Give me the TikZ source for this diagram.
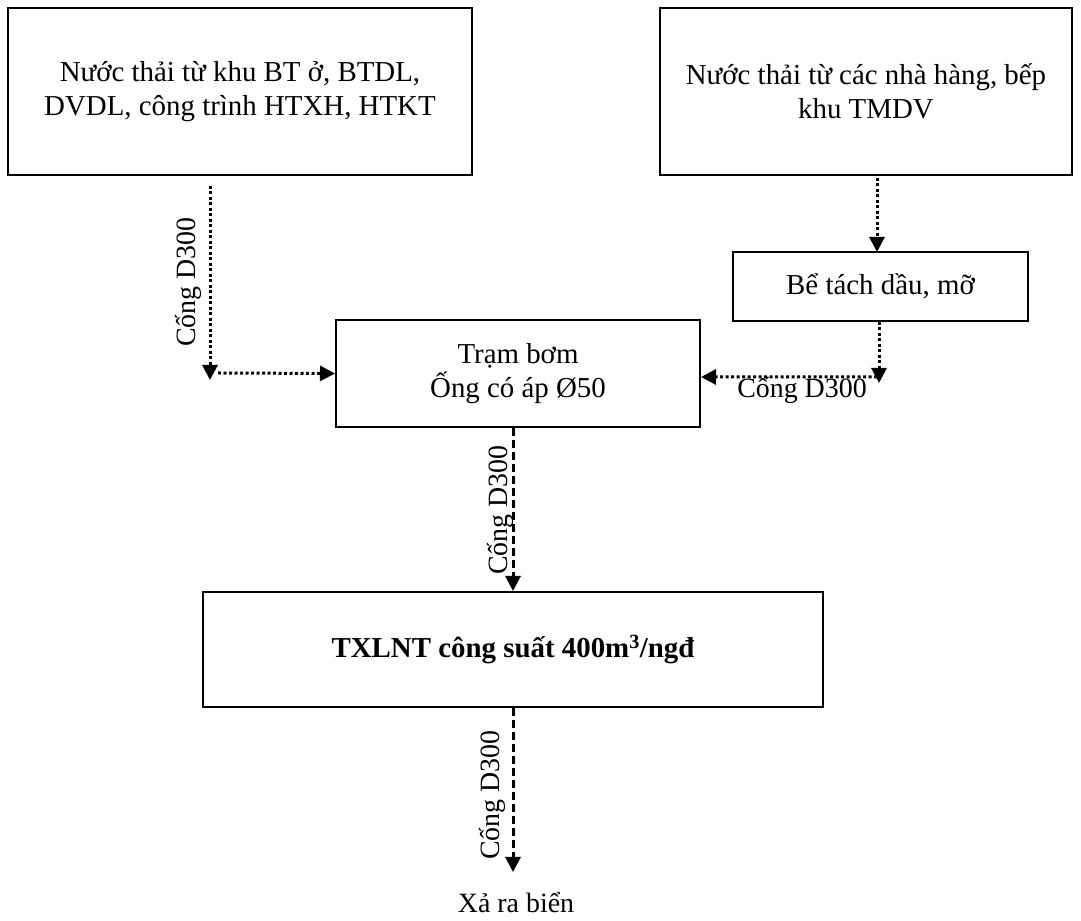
\documentclass[tikz,border=0pt]{standalone}
\usepackage{fontspec}
\setmainfont{Liberation Serif}
\usetikzlibrary{arrows.meta}
\tikzset{
  box/.style={draw,line width=2bp,inner sep=0pt,align=center,font=\fontsize{29}{34}\selectfont},
  pipedot/.style={line width=3bp,dash pattern=on 3bp off 2.5bp},
  pipedash/.style={line width=3bp,dash pattern=on 8bp off 4bp},
  tip/.style={-{Triangle[length=15bp,width=15bp]}},
  lbl/.style={font=\fontsize{28}{32}\selectfont,inner sep=0pt}
}
\begin{document}
\begin{tikzpicture}
\useasboundingbox (0bp,0bp) rectangle (1081bp,921bp);
% source boxes
\node[box,minimum width=464bp,minimum height=167bp] (sink) at (240bp,829.5bp) {Nước thải từ khu BT ở, BTDL,\\DVDL, công trình HTXH, HTKT};
\node[box,minimum width=412bp,minimum height=167bp] (kitchen) at (866bp,829.5bp) {Nước thải từ các nhà hàng, bếp\\khu TMDV};
\node[box,minimum width=295bp,minimum height=69bp] (grease) at (880.5bp,634.5bp) {Bể tách dầu, mỡ};
\node[box,minimum width=364bp,minimum height=107bp] (pump) at (518bp,547.5bp) {Trạm bơm\\Ống có áp Ø50};
\node[box,minimum width=620bp,minimum height=115bp] (plant) at (513bp,271.5bp) {\raisebox{6bp}{\textbf{TXLNT công suất 400m\textsuperscript{3}/ngđ}}};
\node[lbl,anchor=base] (sea) at (516bp,9bp) {Xả ra biển};

% corners
\coordinate (cl) at (210bp,541bp);
\coordinate (cr) at (879bp,538bp);
\coordinate (pe) at (513bp,49bp);

% connectors
\draw[pipedot,tip] ([yshift=-10bp]sink.south -| cl) -- (cl);
\draw[pipedot,tip] ([xshift=8bp,yshift=7bp]cl) -- (pump.west);
\draw[pipedot,tip] (877bp,743bp) -- (877bp,669bp);
\draw[pipedot,tip] (grease.south -| cr) -- (cr);
\draw[pipedot,tip] ([xshift=-2bp,yshift=6bp]cr) -- (pump.east |- 0,544bp);
\draw[pipedash,tip] (pump.south -| pe) -- (plant.north -| pe);
\draw[pipedash,tip] (plant.south -| pe) -- (pe);

% labels
\node[lbl,rotate=90] (l1) at (188bp,639bp) {Cống D300};
\node[lbl] (l2) at (802bp,531bp) {Cống D300};
\node[lbl,rotate=90] (l3) at (500bp,411bp) {Cống D300};
\node[lbl,rotate=90] (l4) at (492bp,126bp) {Cống D300};
\end{tikzpicture}
\end{document}
